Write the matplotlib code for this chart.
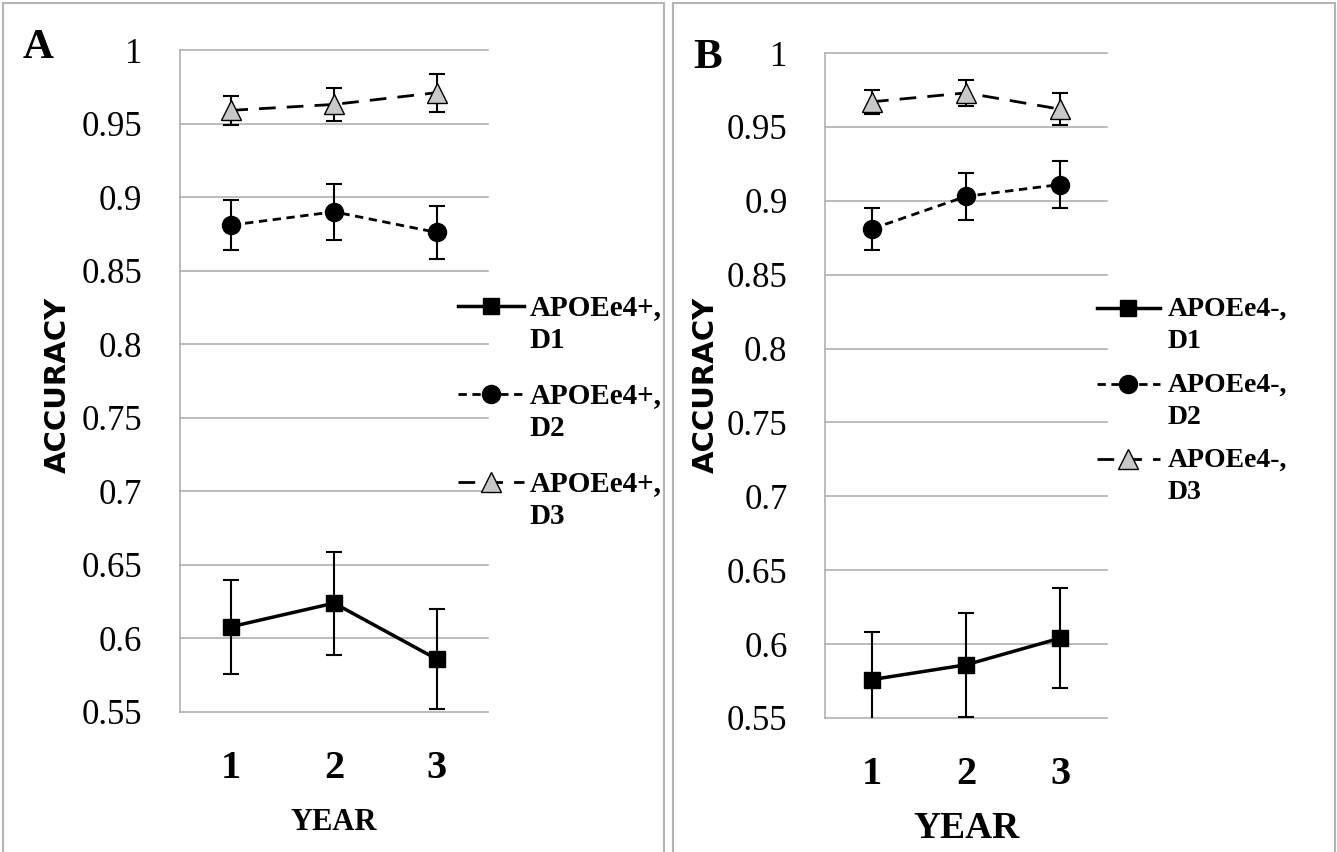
import numpy as np
import matplotlib
matplotlib.use("Agg")
import matplotlib.pyplot as plt
from matplotlib.patches import Rectangle
from matplotlib.lines import Line2D

years = [1, 2, 3]
year_labels = ["1", "2", "3"]
y_ticks = [0.55, 0.6, 0.65, 0.7, 0.75, 0.8, 0.85, 0.9, 0.95, 1.0]
y_tick_labels = ["0.55", "0.6", "0.65", "0.7", "0.75", "0.8", "0.85", "0.9", "0.95", "1"]

# panel A: APOEe4+
a_d1 = [0.608, 0.624, 0.586]
a_d1_err = [0.032, 0.035, 0.034]
a_d2 = [0.881, 0.890, 0.876]
a_d2_err = [0.017, 0.019, 0.018]
a_d3 = [0.959, 0.963, 0.971]
a_d3_err = [0.010, 0.011, 0.013]

# panel B: APOEe4-
b_d1 = [0.576, 0.586, 0.604]
b_d1_err = [0.032, 0.035, 0.034]
b_d2 = [0.881, 0.903, 0.911]
b_d2_err = [0.014, 0.016, 0.016]
b_d3 = [0.967, 0.973, 0.962]
b_d3_err = [0.008, 0.009, 0.011]

SERIF = "Liberation Serif"
W, H = 1337, 852

fig = plt.figure(figsize=(W / 100, H / 100), dpi=100)

# panel frames
for x0, x1 in [(3, 664), (673, 1335)]:
    fig.patches.append(Rectangle((x0 / W, -0.01), (x1 - x0) / W, 1.0 - 3 / H + 0.01,
                                 transform=fig.transFigure, fill=False,
                                 edgecolor="#b5b5b5", linewidth=1.5))

styles = [
    dict(color="black", linewidth=2.5, linestyle="-", marker="s", markersize=12,
         markerfacecolor="black", markeredgecolor="black"),
    dict(color="black", linewidth=2.0, linestyle=(0, (3, 2)), marker="o", markersize=13,
         markerfacecolor="black", markeredgecolor="black"),
    dict(color="black", linewidth=2.0, linestyle=(0, (6, 4)), marker="^", markersize=14,
         markerfacecolor="#c8c8c8", markeredgecolor="black", markeredgewidth=1),
]


def draw_panel(rect, series, errs, tag, letter, letter_pos, ylab_x, year_y,
               year_size, leg_anchor, leg_size, leg_spacing, leg_pad, leg_lines):
    ax = fig.add_axes(rect)
    ax.set_xlim(0.5, 3.5)
    ax.set_ylim(0.55, 1.0)
    for yv in y_ticks:
        ax.axhline(yv, color="#b0b0b0", linewidth=1.2, zorder=0, clip_on=False)
    for s in ["top", "right", "bottom"]:
        ax.spines[s].set_visible(False)
    ax.spines["left"].set_color("#b0b0b0")
    ax.spines["left"].set_linewidth(1.2)
    ax.tick_params(length=0)
    ax.set_yticks(y_ticks)
    ax.set_yticklabels(y_tick_labels, fontsize=25, family=SERIF)
    ax.tick_params(axis="y", pad=27)
    ax.set_xticks(years)
    ax.set_xticklabels(year_labels, fontsize=29, family=SERIF, fontweight="bold")
    ax.tick_params(axis="x", pad=27)

    handles = []
    for i, (vals, err) in enumerate(zip(series, errs)):
        st = styles[i]
        ax.errorbar(years, vals, yerr=err, fmt="none", ecolor="black",
                    elinewidth=1.5, capsize=6, capthick=1.5, zorder=2)
        ax.plot(years, vals, zorder=3, **st)
        handles.append(Line2D([], [], label=f"APOEe4{tag},\nD{i + 1}", **st))

    leg = fig.legend(handles=handles, loc="center left",
                     bbox_to_anchor=leg_anchor, frameon=False,
                     prop={"family": SERIF, "weight": "bold", "size": leg_size},
                     handlelength=2.25, handleheight=1.15, handletextpad=leg_pad,
                     labelspacing=leg_spacing, borderaxespad=0, borderpad=0)
    for t in leg.get_texts():
        t.set_linespacing(leg_lines)
    # put the handle next to the first line of each two-line label
    try:
        for col in leg._legend_handle_box.get_children():
            for row in col.get_children():
                row.align = "top"
    except AttributeError:
        pass

    fig.text(letter_pos[0] / W, 1 - letter_pos[1] / H, letter, family=SERIF,
             fontweight="bold", fontsize=31, ha="center", va="center")
    fig.text(ylab_x / W, 1 - 385 / H, "ACCURACY", rotation=90,
             family=["Liberation Sans Narrow", "DejaVu Sans"], fontweight="bold",
             fontsize=21, ha="center", va="center")
    fig.text((rect[0] + rect[2] / 2), 1 - year_y / H, "YEAR", family=SERIF,
             fontweight="bold", fontsize=year_size, ha="center", va="center")
    return ax


draw_panel([180 / W, 1 - 712 / H, 308 / W, 662 / H],
           [a_d1, a_d2, a_d3], [a_d1_err, a_d2_err, a_d3_err], "+", "A", (38, 48),
           58, 822, 22, (458 / W, 1 - 412 / H), 21, 0.96, 0.2, 1.3)
draw_panel([825 / W, 1 - 718 / H, 282 / W, 665 / H],
           [b_d1, b_d2, b_d3], [b_d1_err, b_d2_err, b_d3_err], "-", "B", (708, 58),
           706, 828, 27, (1097 / W, 1 - 401 / H), 20, 0.64, 0.28, 1.4)

fig.savefig("out.png", dpi=100)
